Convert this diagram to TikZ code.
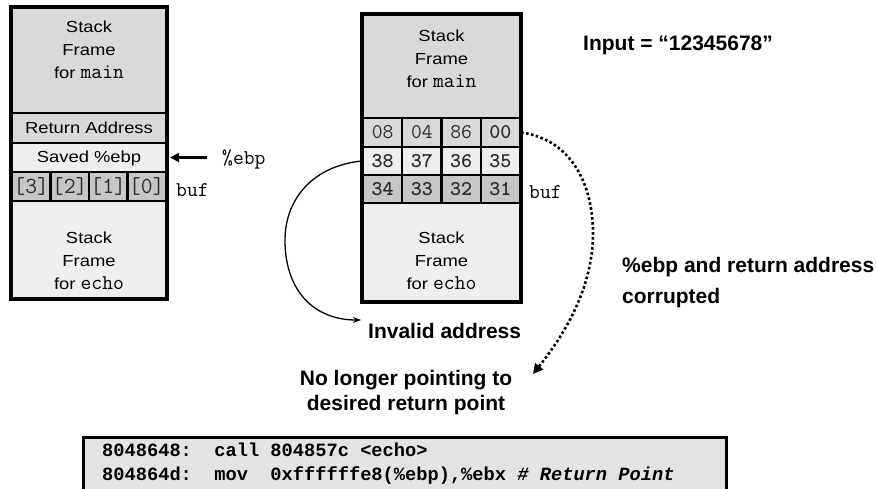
\documentclass[tikz,border=0pt]{standalone}
\usepackage{fontspec}
\setmainfont{Liberation Sans}
\newfontfamily\stackfont[FakeStretch=1.15]{Liberation Sans}
\newfontfamily\codefont{Liberation Mono}
\usetikzlibrary{arrows.meta}
\definecolor{gmain}{HTML}{D9D9D9}
\definecolor{glight}{HTML}{EEEEEE}
\definecolor{gdark}{HTML}{C6C6C6}
\definecolor{gcode}{HTML}{E3E3E3}
\definecolor{celltxt}{HTML}{2B2B2B}
\tikzset{
  cellbox/.style={draw=black, line width=2.2pt, inner sep=0pt, text=celltxt,
    font=\ttfamily\fontsize{21}{22}\selectfont},
  stacklabel/.style={align=center, inner sep=0pt, font=\stackfont\fontsize{16}{23}\selectfont},
  boldlabel/.style={inner sep=0pt, font=\bfseries\fontsize{21}{25}\selectfont},
  monolabel/.style={inner sep=0pt, font=\ttfamily\fontsize{21}{22}\selectfont},
  outer/.style={draw=black, line width=3.5pt},
}
\newcommand{\mtt}[1]{{\ttfamily\fontsize{21}{23}\selectfont #1}}
\begin{document}
\begin{tikzpicture}[x=1pt,y=-1pt]
\useasboundingbox (0,0) rectangle (876,489);

% ---------------- left stack ----------------
\node[cellbox, fill=gmain, minimum width=154, minimum height=105] (lmain) at (89,60.5) {};
\node[cellbox, fill=gmain, minimum width=154, minimum height=30] (lra) at (89,128) {};
\node[cellbox, fill=glight, minimum width=154, minimum height=29] (lsave) at (89,157.5) {};
\node[cellbox, fill=gdark, minimum width=38.5, minimum height=29, font=\ttfamily\fontsize{23}{24}\selectfont] (lb3) at (31.25,186.5) {[3]};
\node[cellbox, fill=gdark, minimum width=38.5, minimum height=29, font=\ttfamily\fontsize{23}{24}\selectfont] (lb2) at (69.75,186.5) {[2]};
\node[cellbox, fill=gdark, minimum width=38.5, minimum height=29, font=\ttfamily\fontsize{23}{24}\selectfont] (lb1) at (108.25,186.5) {[1]};
\node[cellbox, fill=gdark, minimum width=38.5, minimum height=29, font=\ttfamily\fontsize{23}{24}\selectfont] (lb0) at (146.75,186.5) {[0]};
\node[cellbox, fill=glight, minimum width=154, minimum height=97] (lecho) at (89,249.5) {};
\draw[outer] (lmain.north west) rectangle (lecho.south east);

\node[stacklabel] (lmaintxt) at (89,50) {Stack\\Frame\\for \mtt{main}};
\node[stacklabel] (lratxt) at (89,128) {Return Address};
\node[stacklabel] (lsavetxt) at (89,158) {Saved \%ebp};
\node[stacklabel] (lechotxt) at (89,261) {Stack\\Frame\\for \mtt{echo}};

\node[monolabel, anchor=west] (ebpl) at (222,160) {\%ebp};
\node[monolabel, anchor=west] (lbuf) at (176,190) {buf};
\draw[line width=2.5pt, -{Triangle[length=9pt,width=9pt]}, shorten <=15pt, shorten >=3pt]
  (ebpl.west |- lsave.east) -- (lsave.east);

% ---------------- right stack ----------------
\node[cellbox, fill=gmain, minimum width=157, minimum height=103] (rmain) at (441.5,66.5) {};
\node[cellbox, fill=gmain, minimum width=39.25, minimum height=29] (r08) at (382.6,132.5) {08};
\node[cellbox, fill=gmain, minimum width=39.25, minimum height=29] (r04) at (421.9,132.5) {04};
\node[cellbox, fill=gmain, minimum width=39.25, minimum height=29] (r86) at (461.1,132.5) {86};
\node[cellbox, fill=gmain, minimum width=39.25, minimum height=29, font=\ttfamily\bfseries\fontsize{21}{22}\selectfont] (r00) at (500.4,132.5) {00};
\node[cellbox, fill=glight, minimum width=39.25, minimum height=28, font=\ttfamily\bfseries\fontsize{21}{22}\selectfont] (r38) at (382.6,161) {38};
\node[cellbox, fill=glight, minimum width=39.25, minimum height=28, font=\ttfamily\bfseries\fontsize{21}{22}\selectfont] (r37) at (421.9,161) {37};
\node[cellbox, fill=glight, minimum width=39.25, minimum height=28, font=\ttfamily\bfseries\fontsize{21}{22}\selectfont] (r36) at (461.1,161) {36};
\node[cellbox, fill=glight, minimum width=39.25, minimum height=28, font=\ttfamily\bfseries\fontsize{21}{22}\selectfont] (r35) at (500.4,161) {35};
\node[cellbox, fill=gdark, minimum width=39.25, minimum height=28, font=\ttfamily\bfseries\fontsize{21}{22}\selectfont] (r34) at (382.6,189) {34};
\node[cellbox, fill=gdark, minimum width=39.25, minimum height=28, font=\ttfamily\bfseries\fontsize{21}{22}\selectfont] (r33) at (421.9,189) {33};
\node[cellbox, fill=gdark, minimum width=39.25, minimum height=28, font=\ttfamily\bfseries\fontsize{21}{22}\selectfont] (r32) at (461.1,189) {32};
\node[cellbox, fill=gdark, minimum width=39.25, minimum height=28, font=\ttfamily\bfseries\fontsize{21}{22}\selectfont] (r31) at (500.4,189) {31};
\node[cellbox, fill=glight, minimum width=157, minimum height=98] (recho) at (441.5,252) {};
\draw[outer] (rmain.north west) rectangle (recho.south east);

\node[stacklabel] (rmaintxt) at (441.5,58.5) {Stack\\Frame\\for \mtt{main}};
\node[stacklabel] (rechotxt) at (441.5,261) {Stack\\Frame\\for \mtt{echo}};
\node[monolabel, anchor=west] (rbuf) at (529,192) {buf};

% ---------------- labels ----------------
\node[boldlabel, anchor=west] (input) at (583,45) {Input = “12345678”};
\node[boldlabel, anchor=west, align=left, font=\bfseries\fontsize{21}{31}\selectfont] (corrupt) at (622,283) {\%ebp and return address\\corrupted};
\node[boldlabel, anchor=west] (invalid) at (368,331) {Invalid address};
\node[boldlabel, align=center] (nolonger) at (406,393) {No longer pointing to\\desired return point};
\coordinate (dotend) at (533,374);

% ---------------- connectors ----------------
\draw[line width=1.3pt, -{Stealth[length=8pt,width=6pt]}]
  (r38.west) .. controls (312,166) and (285,200) .. (285,240)
  .. controls (285,292) and (315,320) .. ([xshift=-7pt,yshift=11pt]invalid.west);
\draw[line width=2.6pt, dash pattern=on 2.6pt off 2.4pt, -{Triangle[length=10pt,width=10pt]}]
  (r00.east) .. controls (575,140) and (593,190) .. (593,233)
  .. controls (593,292) and (560,340) .. (dotend);

% ---------------- code box ----------------
\node[draw=black, fill=gcode, line width=3pt, anchor=north west, inner sep=0pt,
      minimum width=643, minimum height=70] (code) at (82,436) {};
\node[anchor=west, align=left, inner sep=0pt, font=\codefont\bfseries\fontsize{18.7}{24}\selectfont] (codetxt) at (102,464)
  {8048648:~~call~804857c~<echo>\\804864d:~~mov~~0xffffffe8(\%ebp),\%ebx~\textit{\#~Return~Point}};
\end{tikzpicture}
\end{document}
